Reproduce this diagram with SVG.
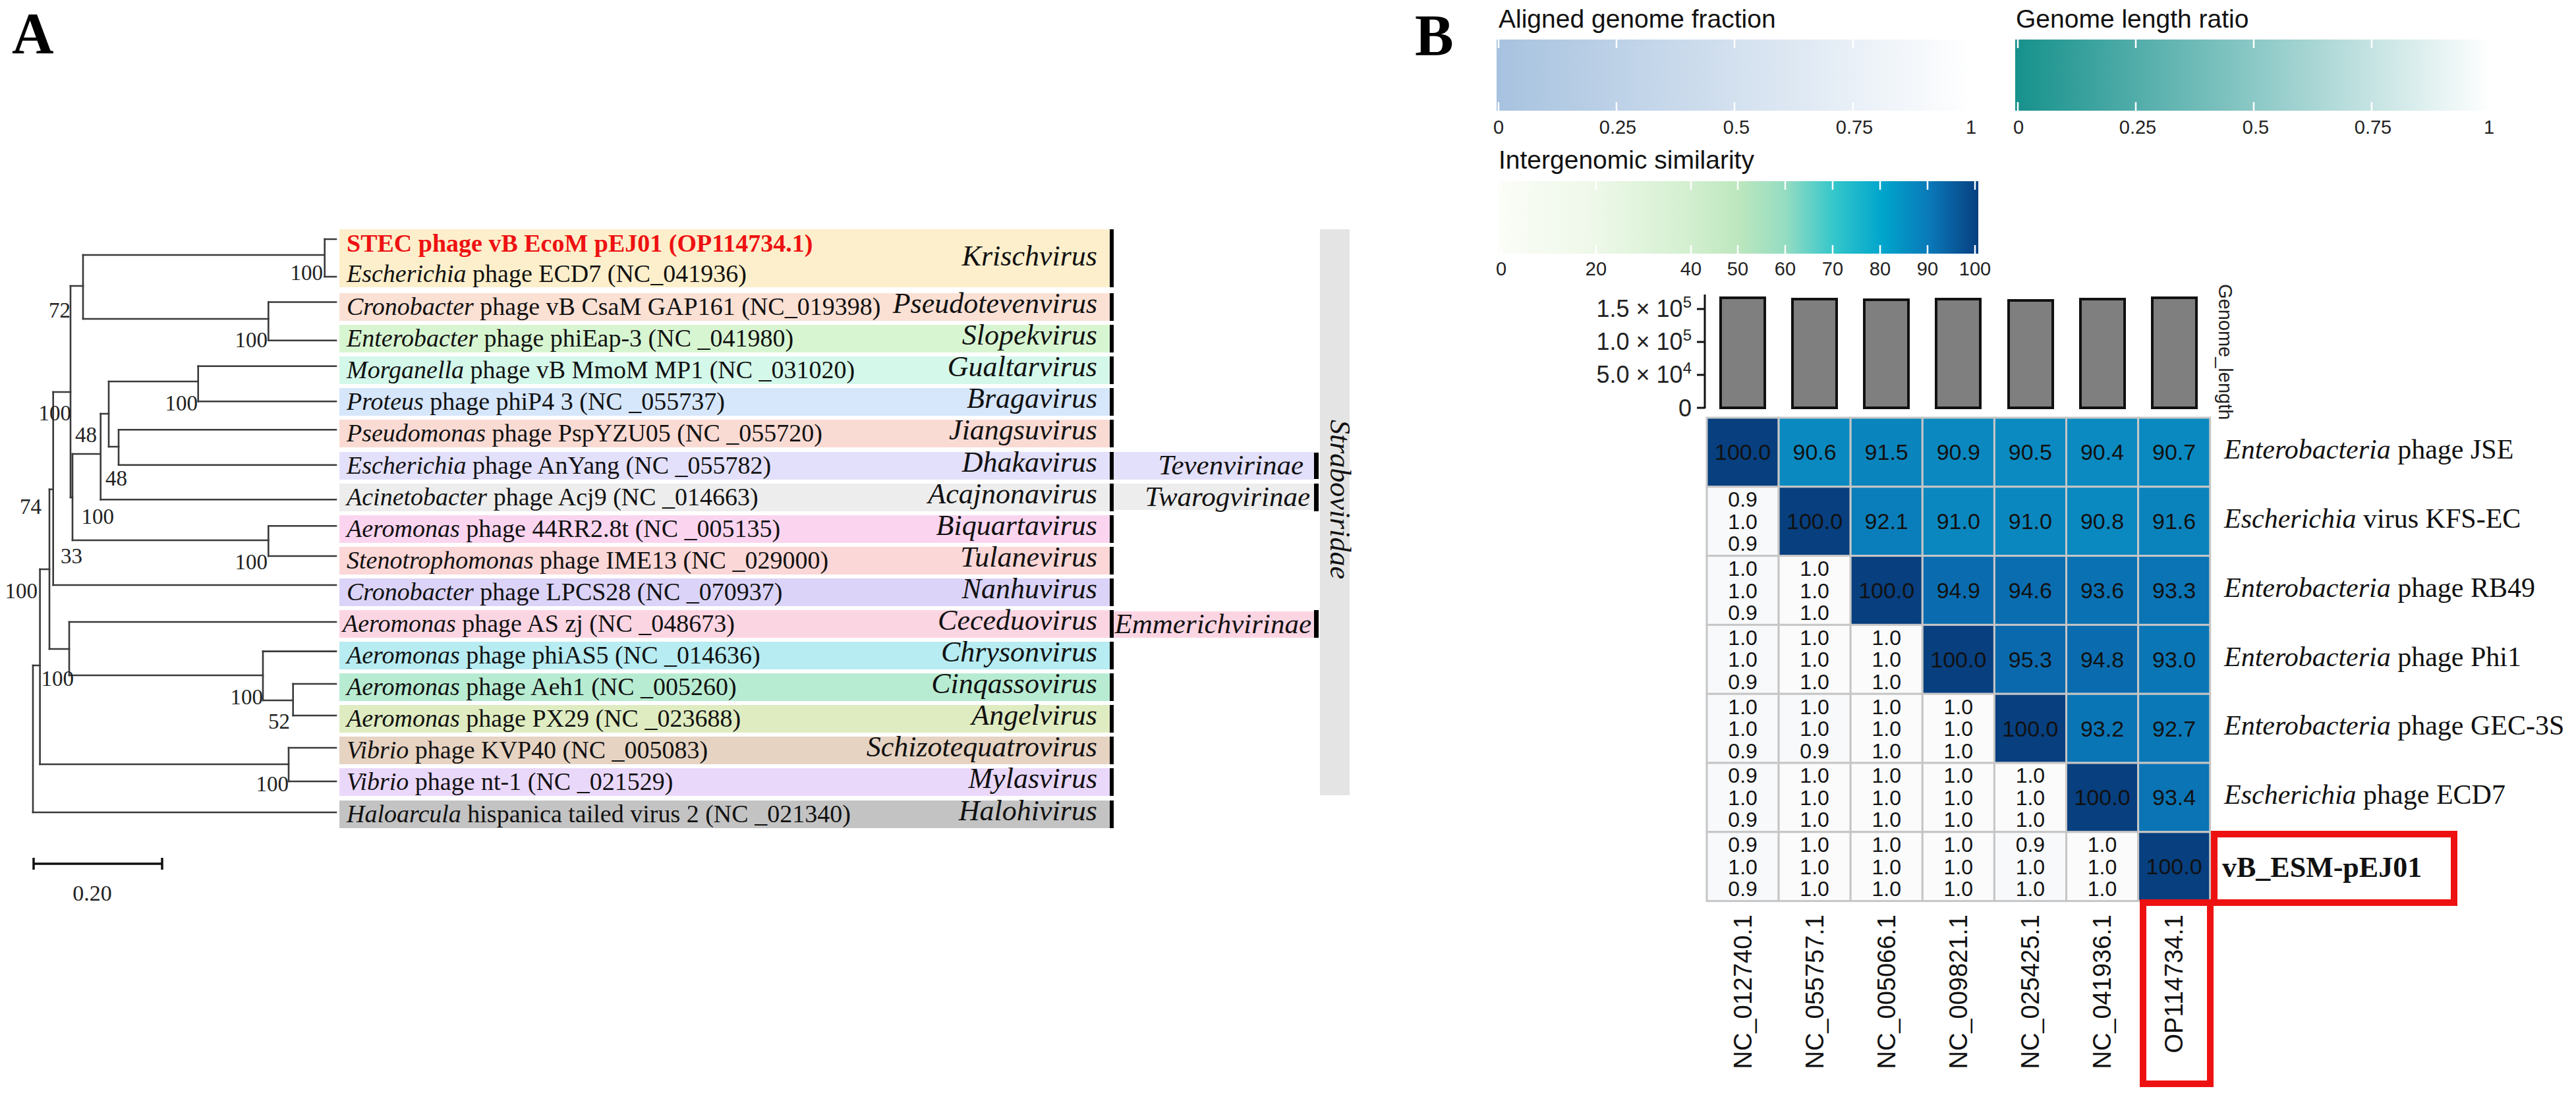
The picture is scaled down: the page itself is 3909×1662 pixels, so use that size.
<svg xmlns="http://www.w3.org/2000/svg" width="3909" height="1662" viewBox="0 0 3909 1662">
<defs>
<style>
.serif{font-family:'Liberation Serif','Times New Roman',serif}
.sans{font-family:'Liberation Sans',Arial,sans-serif}
.leaf{font-family:'Liberation Serif','Times New Roman',serif;font-size:38px;fill:#111}
.gen{font-family:'Liberation Serif','Times New Roman',serif;font-size:44px;font-style:italic;text-anchor:end;fill:#111}
.sub{font-family:'Liberation Serif','Times New Roman',serif;font-size:43px;font-style:italic;text-anchor:end;fill:#111}
.bs{font-family:'Liberation Serif','Times New Roman',serif;font-size:33px;fill:#222;text-anchor:end}
.br{stroke:#3a3a3a;stroke-width:2.6;fill:none;stroke-linecap:square}
.gbar{fill:#000}
.lt{font-family:'Liberation Sans',Arial,sans-serif;font-size:39px;fill:#111}
.tk{font-family:'Liberation Sans',Arial,sans-serif;font-size:29px;fill:#222;text-anchor:middle}
.tkm{stroke:#fff;stroke-width:2.5}
.ax{font-family:'Liberation Sans',Arial,sans-serif;font-size:36px;fill:#222;text-anchor:end}
.bar{fill:#7f7f7f;stroke:#111;stroke-width:4}
.hc{stroke:#c6c6c6;stroke-width:3}
.hv{font-family:'Liberation Sans',Arial,sans-serif;font-size:34px;text-anchor:middle;fill:#111}
.hl{font-family:'Liberation Sans',Arial,sans-serif;font-size:32px;text-anchor:middle;fill:#111}
.rl{font-family:'Liberation Serif','Times New Roman',serif;font-size:42px;fill:#111}
.cl{font-family:'Liberation Sans',Arial,sans-serif;font-size:38px;fill:#111;text-anchor:end}
.red{fill:none;stroke:#ee1111;stroke-width:10}
.i{font-style:italic}
</style>
<linearGradient id="g1" x1="0" x2="1" y1="0" y2="0"><stop offset="0" stop-color="#a7c2df"/><stop offset="1" stop-color="#ffffff"/></linearGradient>
<linearGradient id="g2" x1="0" x2="1" y1="0" y2="0"><stop offset="0" stop-color="#16918c"/><stop offset="1" stop-color="#ffffff"/></linearGradient>
<linearGradient id="g3" x1="0" x2="1" y1="0" y2="0">
<stop offset="0" stop-color="#fbfdf7"/><stop offset="0.2" stop-color="#eef8e9"/><stop offset="0.4" stop-color="#d2efcf"/><stop offset="0.5" stop-color="#bde7be"/><stop offset="0.6" stop-color="#93dcc2"/><stop offset="0.7" stop-color="#33c6cb"/><stop offset="0.8" stop-color="#00a5cc"/><stop offset="0.9" stop-color="#0a78b8"/><stop offset="1" stop-color="#073f80"/>
</linearGradient>
</defs>
<rect x="0" y="0" width="3909" height="1662" fill="#fff"/>

<!-- Panel labels -->
<text x="18" y="80" class="serif" font-size="88" font-weight="bold">A</text>
<text x="2147" y="83" class="serif" font-size="88" font-weight="bold">B</text>

<!-- Panel A: tree connectors -->
<g id="tree-connectors" class="br">
<path d="M492.7 363H510M492.7 420H510M407.3 458.5H510M407.3 516.7H510M300.7 555.7H510M300.7 609.3H510M180 652.3H510M180 705.7H510M152.7 758.3H510M407.3 798.3H510M407.3 844H510M80.7 888H510M105 944H510M399 988.6H510M444.7 1038H510M444.7 1086H510M438 1135H510M438 1186H510M50 1233H510"/>
<path d="M492.7 363V420M407.3 458.5V516.7M126 387V484M300.7 555.7V609.3M180 652.3V705.7M165 579V678M152.7 628V758.3M407.3 798.3V844M110 689V820M107 434V755M80.7 595V888M444.7 1038V1086M399 988.6V1063M105 944V1025M75 742.7V985M438 1135V1186M60.6 864V1160M50 1010V1233"/>
<path d="M126 387H492.7M126 484H407.3M107 434H126M165 579H300.7M165 678H180M152.7 628H165M110 689H152.7M110 820H407.3M107 755H110M80.7 595H107M75 742.7H80.7M399 1063H444.7M105 1025H399M75 985H105M60.6 864H75M60.6 1160H438M50 1010H60.6"/>
</g>

<g id="bootstrap">
<text class="bs" x="490" y="425">100</text>
<text class="bs" x="406" y="527">100</text>
<text class="bs" x="107" y="482">72</text>
<text class="bs" x="300" y="623">100</text>
<text class="bs" x="147" y="671">48</text>
<text class="bs" x="193" y="737">48</text>
<text class="bs" x="173" y="795">100</text>
<text class="bs" x="108" y="638">100</text>
<text class="bs" x="63" y="780">74</text>
<text class="bs" x="125" y="855">33</text>
<text class="bs" x="406" y="864">100</text>
<text class="bs" x="57" y="908">100</text>
<text class="bs" x="112" y="1041">100</text>
<text class="bs" x="399" y="1069">100</text>
<text class="bs" x="440" y="1106">52</text>
<text class="bs" x="438" y="1201">100</text>
</g>

<g id="scale-bar">
<path d="M51 1311H246M51 1302V1320M246 1302V1320" stroke="#111" stroke-width="3.5" fill="none"/>
<text x="140" y="1367" class="serif" font-size="34" text-anchor="middle" fill="#222">0.20</text>
</g>

<!-- Leaves -->
<g id="leaf-krischvirus">
<rect x="515" y="348" width="1169" height="88" fill="#fdefcb"/>
<text class="leaf" x="526" y="382" font-weight="bold" fill="#ee1111" style="fill:#ee1111">STEC phage vB EcoM pEJ01 (OP114734.1)</text>
<text class="leaf" x="526" y="428"><tspan class="i">Escherichia</tspan> phage ECD7 (NC_041936)</text>
<text class="gen" x="1665" y="403">Krischvirus</text>
<rect class="gbar" x="1684" y="348" width="6" height="88"/>
</g>
<g id="leaf-pseudotevenvirus">
<rect x="515" y="445" width="1169" height="42" fill="#fbe0d4"/>
<text class="leaf" x="526" y="478"><tspan class="i">Cronobacter</tspan> phage vB CsaM GAP161 (NC_019398)</text>
<text class="gen" x="1665" y="475">Pseudotevenvirus</text>
<rect class="gbar" x="1684" y="445" width="6" height="42"/>
</g>
<g id="leaf-slopekvirus">
<rect x="515" y="493" width="1169" height="42" fill="#d8f5d2"/>
<text class="leaf" x="526" y="526"><tspan class="i">Enterobacter</tspan> phage phiEap-3 (NC _041980)</text>
<text class="gen" x="1665" y="523">Slopekvirus</text>
<rect class="gbar" x="1684" y="493" width="6" height="42"/>
</g>
<g id="leaf-gualtarvirus">
<rect x="515" y="541" width="1169" height="42" fill="#d4f8ea"/>
<text class="leaf" x="526" y="574"><tspan class="i">Morganella</tspan> phage vB MmoM MP1 (NC _031020)</text>
<text class="gen" x="1665" y="571">Gualtarvirus</text>
<rect class="gbar" x="1684" y="541" width="6" height="42"/>
</g>
<g id="leaf-bragavirus">
<rect x="515" y="589" width="1169" height="42" fill="#d6e6fb"/>
<text class="leaf" x="526" y="622"><tspan class="i">Proteus</tspan> phage phiP4 3 (NC _055737)</text>
<text class="gen" x="1665" y="619">Bragavirus</text>
<rect class="gbar" x="1684" y="589" width="6" height="42"/>
</g>
<g id="leaf-jiangsuvirus">
<rect x="515" y="637" width="1169" height="42" fill="#fadbd4"/>
<text class="leaf" x="526" y="670"><tspan class="i">Pseudomonas</tspan> phage PspYZU05 (NC _055720)</text>
<text class="gen" x="1665" y="667">Jiangsuvirus</text>
<rect class="gbar" x="1684" y="637" width="6" height="42"/>
</g>
<g id="leaf-dhakavirus">
<rect x="515" y="686" width="1169" height="42" fill="#e3e0fb"/>
<text class="leaf" x="526" y="719"><tspan class="i">Escherichia</tspan> phage AnYang (NC _055782)</text>
<text class="gen" x="1665" y="716">Dhakavirus</text>
<rect class="gbar" x="1684" y="686" width="6" height="42"/>
</g>
<g id="leaf-acajnonavirus">
<rect x="515" y="734" width="1169" height="42" fill="#ededed"/>
<text class="leaf" x="526" y="767"><tspan class="i">Acinetobacter</tspan> phage Acj9 (NC _014663)</text>
<text class="gen" x="1665" y="764">Acajnonavirus</text>
<rect class="gbar" x="1684" y="734" width="6" height="42"/>
</g>
<g id="leaf-biquartavirus">
<rect x="515" y="782" width="1169" height="42" fill="#fbd5f0"/>
<text class="leaf" x="526" y="815"><tspan class="i">Aeromonas</tspan> phage 44RR2.8t (NC _005135)</text>
<text class="gen" x="1665" y="812">Biquartavirus</text>
<rect class="gbar" x="1684" y="782" width="6" height="42"/>
</g>
<g id="leaf-tulanevirus">
<rect x="515" y="830" width="1169" height="42" fill="#fbd7d7"/>
<text class="leaf" x="526" y="863"><tspan class="i">Stenotrophomonas</tspan> phage IME13 (NC _029000)</text>
<text class="gen" x="1665" y="860">Tulanevirus</text>
<rect class="gbar" x="1684" y="830" width="6" height="42"/>
</g>
<g id="leaf-nanhuvirus">
<rect x="515" y="878" width="1169" height="42" fill="#dcd3f8"/>
<text class="leaf" x="526" y="911"><tspan class="i">Cronobacter</tspan> phage LPCS28 (NC _070937)</text>
<text class="gen" x="1665" y="908">Nanhuvirus</text>
<rect class="gbar" x="1684" y="878" width="6" height="42"/>
</g>
<g id="leaf-ceceduovirus">
<rect x="515" y="926" width="1169" height="42" fill="#fcd5e3"/>
<text class="leaf" x="520" y="959"><tspan class="i">Aeromonas</tspan> phage AS zj (NC _048673)</text>
<text class="gen" x="1665" y="956">Ceceduovirus</text>
<rect class="gbar" x="1684" y="926" width="6" height="42"/>
</g>
<g id="leaf-chrysonvirus">
<rect x="515" y="974" width="1169" height="42" fill="#b6ecf2"/>
<text class="leaf" x="526" y="1007"><tspan class="i">Aeromonas</tspan> phage phiAS5 (NC _014636)</text>
<text class="gen" x="1665" y="1004">Chrysonvirus</text>
<rect class="gbar" x="1684" y="974" width="6" height="42"/>
</g>
<g id="leaf-cinqassovirus">
<rect x="515" y="1022" width="1169" height="42" fill="#b8ecd2"/>
<text class="leaf" x="526" y="1055"><tspan class="i">Aeromonas</tspan> phage Aeh1 (NC _005260)</text>
<text class="gen" x="1665" y="1052">Cinqassovirus</text>
<rect class="gbar" x="1684" y="1022" width="6" height="42"/>
</g>
<g id="leaf-angelvirus">
<rect x="515" y="1070" width="1169" height="42" fill="#dfecc1"/>
<text class="leaf" x="526" y="1103"><tspan class="i">Aeromonas</tspan> phage PX29 (NC _023688)</text>
<text class="gen" x="1665" y="1100">Angelvirus</text>
<rect class="gbar" x="1684" y="1070" width="6" height="42"/>
</g>
<g id="leaf-schizotequatrovirus">
<rect x="515" y="1118" width="1169" height="42" fill="#e6d3c2"/>
<text class="leaf" x="526" y="1151"><tspan class="i">Vibrio</tspan> phage KVP40 (NC _005083)</text>
<text class="gen" x="1665" y="1148">Schizotequatrovirus</text>
<rect class="gbar" x="1684" y="1118" width="6" height="42"/>
</g>
<g id="leaf-mylasvirus">
<rect x="515" y="1166" width="1169" height="42" fill="#ead8fa"/>
<text class="leaf" x="526" y="1199"><tspan class="i">Vibrio</tspan> phage nt-1 (NC _021529)</text>
<text class="gen" x="1665" y="1196">Mylasvirus</text>
<rect class="gbar" x="1684" y="1166" width="6" height="42"/>
</g>
<g id="leaf-halohivirus">
<rect x="515" y="1215" width="1169" height="42" fill="#c3c3c3"/>
<text class="leaf" x="526" y="1248"><tspan class="i">Haloarcula</tspan> hispanica tailed virus 2 (NC _021340)</text>
<text class="gen" x="1665" y="1245">Halohivirus</text>
<rect class="gbar" x="1684" y="1215" width="6" height="42"/>
</g>

<!-- Subfamilies / family -->
<g id="sub-tevenvirinae">
<rect x="1690" y="686" width="304" height="42" fill="#e3e0fb"/>
<text class="sub" x="1978" y="720">Tevenvirinae</text>
<rect class="gbar" x="1994" y="687" width="7" height="40"/>
</g>
<g id="sub-twarogvirinae">
<rect x="1690" y="734" width="304" height="40" fill="#ededed"/>
<text class="sub" x="1988" y="768">Twarogvirinae</text>
<rect class="gbar" x="1994" y="734" width="7" height="42"/>
</g>
<g id="sub-emmerichvirinae">
<rect x="1690" y="928" width="304" height="40" fill="#fcd5e3"/>
<text class="sub" x="1990" y="961">Emmerichvirinae</text>
<rect class="gbar" x="1994" y="926" width="7" height="42"/>
</g>
<g id="family-straboviridae">
<rect x="2003" y="348" width="45" height="859" fill="#e4e4e4"/>
<text class="serif" x="2019" y="758" font-size="44" font-style="italic" text-anchor="middle" fill="#111" transform="rotate(90 2019 758)">Straboviridae</text>
</g>

<!-- Panel B legends -->
<g id="legend-aligned">
<text class="lt" x="2274" y="42">Aligned genome fraction</text>
<rect x="2271" y="60" width="722" height="108" fill="url(#g1)"/>
<path class="tkm" d="M2274 60v13M2274 155v13M2453 60v13M2453 155v13M2632 60v13M2632 155v13M2812 60v13M2812 155v13M2991 60v13M2991 155v13"/>
<text class="tk" x="2274" y="203">0</text><text class="tk" x="2455" y="203">0.25</text><text class="tk" x="2635" y="203">0.5</text><text class="tk" x="2814" y="203">0.75</text><text class="tk" x="2991" y="203">1</text>
</g>
<g id="legend-length">
<text class="lt" x="3059" y="42">Genome length ratio</text>
<rect x="3058" y="60" width="722" height="108" fill="url(#g2)"/>
<path class="tkm" d="M3062 60v13M3062 155v13M3241 60v13M3241 155v13M3420 60v13M3420 155v13M3599 60v13M3599 155v13M3778 60v13M3778 155v13"/>
<text class="tk" x="3063" y="203">0</text><text class="tk" x="3244" y="203">0.25</text><text class="tk" x="3423" y="203">0.5</text><text class="tk" x="3601" y="203">0.75</text><text class="tk" x="3777" y="203">1</text>
</g>
<g id="legend-similarity">
<text class="lt" x="2274" y="256">Intergenomic similarity</text>
<rect x="2274" y="275" width="728" height="110" fill="url(#g3)"/>
<path class="tkm" d="M2278 275v13M2278 372v13M2422 275v13M2422 372v13M2566 275v13M2566 372v13M2637 275v13M2637 372v13M2709 275v13M2709 372v13M2781 275v13M2781 372v13M2853 275v13M2853 372v13M2925 275v13M2925 372v13M2997 275v13M2997 372v13"/>
<text class="tk" x="2278" y="418">0</text><text class="tk" x="2422" y="418">20</text><text class="tk" x="2566" y="418">40</text><text class="tk" x="2637" y="418">50</text><text class="tk" x="2709" y="418">60</text><text class="tk" x="2781" y="418">70</text><text class="tk" x="2853" y="418">80</text><text class="tk" x="2925" y="418">90</text><text class="tk" x="2997" y="418">100</text>
</g>

<!-- Genome length bar chart -->
<g id="genome-length-bars">
<path d="M2587 447V620M2575 469H2587M2575 519H2587M2575 569H2587M2575 619H2587" stroke="#111" stroke-width="3" fill="none"/>
<text class="ax" x="2567" y="481">1.5 × 10<tspan dy="-14" font-size="24">5</tspan></text>
<text class="ax" x="2567" y="531">1.0 × 10<tspan dy="-14" font-size="24">5</tspan></text>
<text class="ax" x="2567" y="581">5.0 × 10<tspan dy="-14" font-size="24">4</tspan></text>
<text class="ax" x="2567" y="632">0</text>
<rect class="bar" x="2611" y="452" width="67" height="167"/>
<rect class="bar" x="2720" y="454" width="67" height="165"/>
<rect class="bar" x="2829" y="455" width="67" height="164"/>
<rect class="bar" x="2938" y="454" width="67" height="165"/>
<rect class="bar" x="3048" y="456" width="67" height="163"/>
<rect class="bar" x="3157" y="454" width="67" height="165"/>
<rect class="bar" x="3266" y="452" width="67" height="167"/>
<text class="sans" x="3367" y="431" font-size="29" fill="#222" transform="rotate(90 3367 431)">Genome_length</text>
</g>

<!-- Heatmap -->
<g id="hm-row1">
<rect class="hc" x="2590" y="634" width="109.1" height="104.8" fill="#073f7f"/>
<rect class="hc" x="2699.1" y="634" width="109.1" height="104.8" fill="#0a89c0"/>
<rect class="hc" x="2808.2" y="634" width="109.1" height="104.8" fill="#0a84bd"/>
<rect class="hc" x="2917.3" y="634" width="109.1" height="104.8" fill="#0a88bf"/>
<rect class="hc" x="3026.4" y="634" width="109.1" height="104.8" fill="#0a8ac1"/>
<rect class="hc" x="3135.5" y="634" width="109.1" height="104.8" fill="#0a8ac1"/>
<rect class="hc" x="3244.6" y="634" width="109.1" height="104.8" fill="#0a89c0"/>
<text class="hv" y="698.4"><tspan x="2644.6">100.0</tspan><tspan x="2753.6">90.6</tspan><tspan x="2862.7">91.5</tspan><tspan x="2971.8">90.9</tspan><tspan x="3080.9">90.5</tspan><tspan x="3190">90.4</tspan><tspan x="3299.1">90.7</tspan></text>
<text class="rl" x="3375" y="696"><tspan class="i">Enterobacteria</tspan> phage JSE</text>
</g>
<g id="hm-row2">
<rect class="hc" x="2590" y="738.8" width="109.1" height="104.8" fill="#f8f9fb"/>
<rect class="hc" x="2699.1" y="738.8" width="109.1" height="104.8" fill="#073f7f"/>
<rect class="hc" x="2808.2" y="738.8" width="109.1" height="104.8" fill="#0a7eba"/>
<rect class="hc" x="2917.3" y="738.8" width="109.1" height="104.8" fill="#0a87bf"/>
<rect class="hc" x="3026.4" y="738.8" width="109.1" height="104.8" fill="#0a87bf"/>
<rect class="hc" x="3135.5" y="738.8" width="109.1" height="104.8" fill="#0a88c0"/>
<rect class="hc" x="3244.6" y="738.8" width="109.1" height="104.8" fill="#0a83bc"/>
<text class="hl"><tspan x="2644.6" y="769">0.9</tspan><tspan x="2644.6" y="802.5">1.0</tspan><tspan x="2644.6" y="836">0.9</tspan></text>
<text class="hv" y="803.2"><tspan x="2753.6">100.0</tspan><tspan x="2862.7">92.1</tspan><tspan x="2971.8">91.0</tspan><tspan x="3080.9">91.0</tspan><tspan x="3190">90.8</tspan><tspan x="3299.1">91.6</tspan></text>
<text class="rl" x="3375" y="801"><tspan class="i">Escherichia</tspan> virus KFS-EC</text>
</g>
<g id="hm-row3">
<rect class="hc" x="2590" y="843.6" width="109.1" height="104.8" fill="#f8f9fb"/>
<rect class="hc" x="2699.1" y="843.6" width="109.1" height="104.8" fill="#fbfbfc"/>
<rect class="hc" x="2808.2" y="843.6" width="109.1" height="104.8" fill="#073f7f"/>
<rect class="hc" x="2917.3" y="843.6" width="109.1" height="104.8" fill="#0a6caf"/>
<rect class="hc" x="3026.4" y="843.6" width="109.1" height="104.8" fill="#0a6db0"/>
<rect class="hc" x="3135.5" y="843.6" width="109.1" height="104.8" fill="#0a72b3"/>
<rect class="hc" x="3244.6" y="843.6" width="109.1" height="104.8" fill="#0a74b4"/>
<text class="hl"><tspan x="2644.6" y="874">1.0</tspan><tspan x="2644.6" y="907.5">1.0</tspan><tspan x="2644.6" y="941">0.9</tspan></text>
<text class="hl"><tspan x="2753.6" y="874">1.0</tspan><tspan x="2753.6" y="907.5">1.0</tspan><tspan x="2753.6" y="941">1.0</tspan></text>
<text class="hv" y="908"><tspan x="2862.7">100.0</tspan><tspan x="2971.8">94.9</tspan><tspan x="3080.9">94.6</tspan><tspan x="3190">93.6</tspan><tspan x="3299.1">93.3</tspan></text>
<text class="rl" x="3375" y="906"><tspan class="i">Enterobacteria</tspan> phage RB49</text>
</g>
<g id="hm-row4">
<rect class="hc" x="2590" y="948.4" width="109.1" height="104.8" fill="#f8f9fb"/>
<rect class="hc" x="2699.1" y="948.4" width="109.1" height="104.8" fill="#fbfbfc"/>
<rect class="hc" x="2808.2" y="948.4" width="109.1" height="104.8" fill="#fbfbfc"/>
<rect class="hc" x="2917.3" y="948.4" width="109.1" height="104.8" fill="#073f7f"/>
<rect class="hc" x="3026.4" y="948.4" width="109.1" height="104.8" fill="#0a69ad"/>
<rect class="hc" x="3135.5" y="948.4" width="109.1" height="104.8" fill="#0a6caf"/>
<rect class="hc" x="3244.6" y="948.4" width="109.1" height="104.8" fill="#0a76b5"/>
<text class="hl"><tspan x="2644.6" y="978.8">1.0</tspan><tspan x="2644.6" y="1012.3">1.0</tspan><tspan x="2644.6" y="1045.8">0.9</tspan></text>
<text class="hl"><tspan x="2753.6" y="978.8">1.0</tspan><tspan x="2753.6" y="1012.3">1.0</tspan><tspan x="2753.6" y="1045.8">1.0</tspan></text>
<text class="hl"><tspan x="2862.7" y="978.8">1.0</tspan><tspan x="2862.7" y="1012.3">1.0</tspan><tspan x="2862.7" y="1045.8">1.0</tspan></text>
<text class="hv" y="1012.8"><tspan x="2971.8">100.0</tspan><tspan x="3080.9">95.3</tspan><tspan x="3190">94.8</tspan><tspan x="3299.1">93.0</tspan></text>
<text class="rl" x="3375" y="1011"><tspan class="i">Enterobacteria</tspan> phage Phi1</text>
</g>
<g id="hm-row5">
<rect class="hc" x="2590" y="1053.2" width="109.1" height="104.8" fill="#f8f9fb"/>
<rect class="hc" x="2699.1" y="1053.2" width="109.1" height="104.8" fill="#f8f9fb"/>
<rect class="hc" x="2808.2" y="1053.2" width="109.1" height="104.8" fill="#fbfbfc"/>
<rect class="hc" x="2917.3" y="1053.2" width="109.1" height="104.8" fill="#fbfbfc"/>
<rect class="hc" x="3026.4" y="1053.2" width="109.1" height="104.8" fill="#073f7f"/>
<rect class="hc" x="3135.5" y="1053.2" width="109.1" height="104.8" fill="#0a75b5"/>
<rect class="hc" x="3244.6" y="1053.2" width="109.1" height="104.8" fill="#0a78b7"/>
<text class="hl"><tspan x="2644.6" y="1083.6">1.0</tspan><tspan x="2644.6" y="1117.1">1.0</tspan><tspan x="2644.6" y="1150.6">0.9</tspan></text>
<text class="hl"><tspan x="2753.6" y="1083.6">1.0</tspan><tspan x="2753.6" y="1117.1">1.0</tspan><tspan x="2753.6" y="1150.6">0.9</tspan></text>
<text class="hl"><tspan x="2862.7" y="1083.6">1.0</tspan><tspan x="2862.7" y="1117.1">1.0</tspan><tspan x="2862.7" y="1150.6">1.0</tspan></text>
<text class="hl"><tspan x="2971.8" y="1083.6">1.0</tspan><tspan x="2971.8" y="1117.1">1.0</tspan><tspan x="2971.8" y="1150.6">1.0</tspan></text>
<text class="hv" y="1117.6"><tspan x="3080.9">100.0</tspan><tspan x="3190">93.2</tspan><tspan x="3299.1">92.7</tspan></text>
<text class="rl" x="3375" y="1115"><tspan class="i">Enterobacteria</tspan> phage GEC-3S</text>
</g>
<g id="hm-row6">
<rect class="hc" x="2590" y="1158" width="109.1" height="104.8" fill="#f8f9fb"/>
<rect class="hc" x="2699.1" y="1158" width="109.1" height="104.8" fill="#fbfbfc"/>
<rect class="hc" x="2808.2" y="1158" width="109.1" height="104.8" fill="#fbfbfc"/>
<rect class="hc" x="2917.3" y="1158" width="109.1" height="104.8" fill="#fbfbfc"/>
<rect class="hc" x="3026.4" y="1158" width="109.1" height="104.8" fill="#fbfbfc"/>
<rect class="hc" x="3135.5" y="1158" width="109.1" height="104.8" fill="#073f7f"/>
<rect class="hc" x="3244.6" y="1158" width="109.1" height="104.8" fill="#0a74b4"/>
<text class="hl"><tspan x="2644.6" y="1188.4">0.9</tspan><tspan x="2644.6" y="1221.9">1.0</tspan><tspan x="2644.6" y="1255.4">0.9</tspan></text>
<text class="hl"><tspan x="2753.6" y="1188.4">1.0</tspan><tspan x="2753.6" y="1221.9">1.0</tspan><tspan x="2753.6" y="1255.4">1.0</tspan></text>
<text class="hl"><tspan x="2862.7" y="1188.4">1.0</tspan><tspan x="2862.7" y="1221.9">1.0</tspan><tspan x="2862.7" y="1255.4">1.0</tspan></text>
<text class="hl"><tspan x="2971.8" y="1188.4">1.0</tspan><tspan x="2971.8" y="1221.9">1.0</tspan><tspan x="2971.8" y="1255.4">1.0</tspan></text>
<text class="hl"><tspan x="3080.9" y="1188.4">1.0</tspan><tspan x="3080.9" y="1221.9">1.0</tspan><tspan x="3080.9" y="1255.4">1.0</tspan></text>
<text class="hv" y="1222.4"><tspan x="3190">100.0</tspan><tspan x="3299.1">93.4</tspan></text>
<text class="rl" x="3375" y="1220"><tspan class="i">Escherichia</tspan> phage ECD7</text>
</g>
<g id="hm-row7">
<rect class="hc" x="2590" y="1262.8" width="109.1" height="104.8" fill="#f8f9fb"/>
<rect class="hc" x="2699.1" y="1262.8" width="109.1" height="104.8" fill="#fbfbfc"/>
<rect class="hc" x="2808.2" y="1262.8" width="109.1" height="104.8" fill="#fbfbfc"/>
<rect class="hc" x="2917.3" y="1262.8" width="109.1" height="104.8" fill="#fbfbfc"/>
<rect class="hc" x="3026.4" y="1262.8" width="109.1" height="104.8" fill="#f8f9fb"/>
<rect class="hc" x="3135.5" y="1262.8" width="109.1" height="104.8" fill="#fbfbfc"/>
<rect class="hc" x="3244.6" y="1262.8" width="109.1" height="104.8" fill="#073f7f"/>
<text class="hl"><tspan x="2644.6" y="1293.2">0.9</tspan><tspan x="2644.6" y="1326.7">1.0</tspan><tspan x="2644.6" y="1360.2">0.9</tspan></text>
<text class="hl"><tspan x="2753.6" y="1293.2">1.0</tspan><tspan x="2753.6" y="1326.7">1.0</tspan><tspan x="2753.6" y="1360.2">1.0</tspan></text>
<text class="hl"><tspan x="2862.7" y="1293.2">1.0</tspan><tspan x="2862.7" y="1326.7">1.0</tspan><tspan x="2862.7" y="1360.2">1.0</tspan></text>
<text class="hl"><tspan x="2971.8" y="1293.2">1.0</tspan><tspan x="2971.8" y="1326.7">1.0</tspan><tspan x="2971.8" y="1360.2">1.0</tspan></text>
<text class="hl"><tspan x="3080.9" y="1293.2">0.9</tspan><tspan x="3080.9" y="1326.7">1.0</tspan><tspan x="3080.9" y="1360.2">1.0</tspan></text>
<text class="hl"><tspan x="3190" y="1293.2">1.0</tspan><tspan x="3190" y="1326.7">1.0</tspan><tspan x="3190" y="1360.2">1.0</tspan></text>
<text class="hv" x="3299.1" y="1327.2">100.0</text>
<text class="serif" x="3372" y="1331" font-size="44" font-weight="bold" fill="#111">vB_ESM-pEJ01</text>
</g>

<g id="column-labels">
<text class="cl" x="2658" y="1388" transform="rotate(-90 2658 1388)">NC_012740.1</text>
<text class="cl" x="2767" y="1388" transform="rotate(-90 2767 1388)">NC_055757.1</text>
<text class="cl" x="2876" y="1388" transform="rotate(-90 2876 1388)">NC_005066.1</text>
<text class="cl" x="2985" y="1388" transform="rotate(-90 2985 1388)">NC_009821.1</text>
<text class="cl" x="3094" y="1388" transform="rotate(-90 3094 1388)">NC_025425.1</text>
<text class="cl" x="3203" y="1388" transform="rotate(-90 3203 1388)">NC_041936.1</text>
<text class="cl" x="3312" y="1388" transform="rotate(-90 3312 1388)">OP114734.1</text>
</g>

<g id="highlights">
<rect class="red" x="3360" y="1266" width="364" height="104"/>
<rect class="red" x="3252" y="1370" width="102" height="275"/>
</g>
</svg>
